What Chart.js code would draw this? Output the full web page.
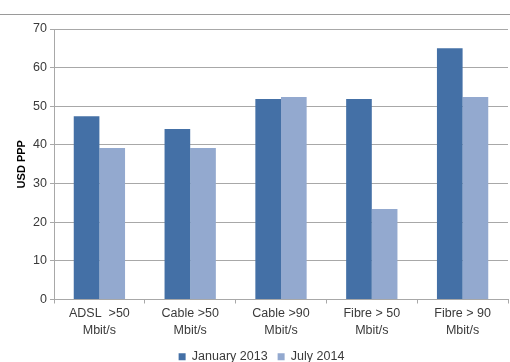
<!DOCTYPE html>
<html>
<head>
<meta charset="utf-8">
<script src="https://cdn.jsdelivr.net/npm/chart.js@4/dist/chart.umd.min.js"></script>
<style>
  html, body { margin: 0; padding: 0; background: #fff; }
  #wrap { position: relative; width: 510px; height: 362px; }
  #rule { position: absolute; left: 0; top: 14px; width: 510px; height: 1px; background: #9a9a9a; }
</style>
</head>
<body>
<div id="wrap">
  <div id="rule"></div>
  <canvas id="priceChart" width="510" height="362"></canvas>
</div>
<script>
const categories = [
  ['ADSL  >50', 'Mbit/s'],
  ['Cable >50', 'Mbit/s'],
  ['Cable >90', 'Mbit/s'],
  ['Fibre > 50', 'Mbit/s'],
  ['Fibre > 90', 'Mbit/s']
];
const jan2013 = [47.4, 44.1, 51.9, 51.9, 65.0];
const jul2014 = [39.2, 39.2, 52.4, 23.4, 52.4];
const seriesNames = ['January 2013', 'July 2014'];

const gridColor = '#a8a8a8';
const textColor = '#3a3a3a';
const fontFamily = '"Liberation Sans", Arial, sans-serif';

const ctx = document.getElementById('priceChart').getContext('2d');

const chart = new Chart(ctx, {
  type: 'bar',
  data: {
    labels: categories,
    datasets: [
      {
        label: seriesNames[0],
        data: jan2013,
        backgroundColor: '#4470a6',
        categoryPercentage: 0.565,
        barPercentage: 1.0
      },
      {
        label: seriesNames[1],
        data: jul2014,
        backgroundColor: '#93a9cf',
        categoryPercentage: 0.565,
        barPercentage: 1.0
      }
    ]
  },
  options: {
    responsive: false,
    animation: false,
    layout: {
      // negative bottom pulls the legend towards the lower edge
      padding: { top: 29, right: 2, bottom: -11, left: 15 }
    },
    plugins: {
      tooltip: { enabled: false },
      legend: {
        position: 'bottom',
        labels: {
          boxWidth: 7,
          boxHeight: 7,
          padding: 10,
          color: textColor,
          font: { family: fontFamily, size: 12.5 }
        }
      }
    },
    scales: {
      x: {
        grid: {
          offset: true,
          drawOnChartArea: false,
          tickLength: 4,
          color: gridColor
        },
        border: { color: gridColor },
        ticks: {
          padding: 1,
          color: textColor,
          maxRotation: 0,
          font: { family: fontFamily, size: 12.5, lineHeight: 1.38 }
        },
        afterFit: function(scale) {
          scale.height = 41;
        }
      },
      y: {
        min: 0,
        max: 70,
        ticks: {
          stepSize: 10,
          padding: 3,
          color: textColor,
          font: { family: fontFamily, size: 12.5 }
        },
        grid: {
          color: gridColor,
          tickLength: 4
        },
        border: { color: gridColor },
        title: {
          display: true,
          text: 'USD PPP',
          color: '#000',
          padding: { top: 0, bottom: 4 },
          font: { family: fontFamily, size: 11, weight: 'bold' }
        },
        afterFit: function(scale) {
          scale.width = 39;
        }
      }
    }
  }
});
</script>
</body>
</html>
